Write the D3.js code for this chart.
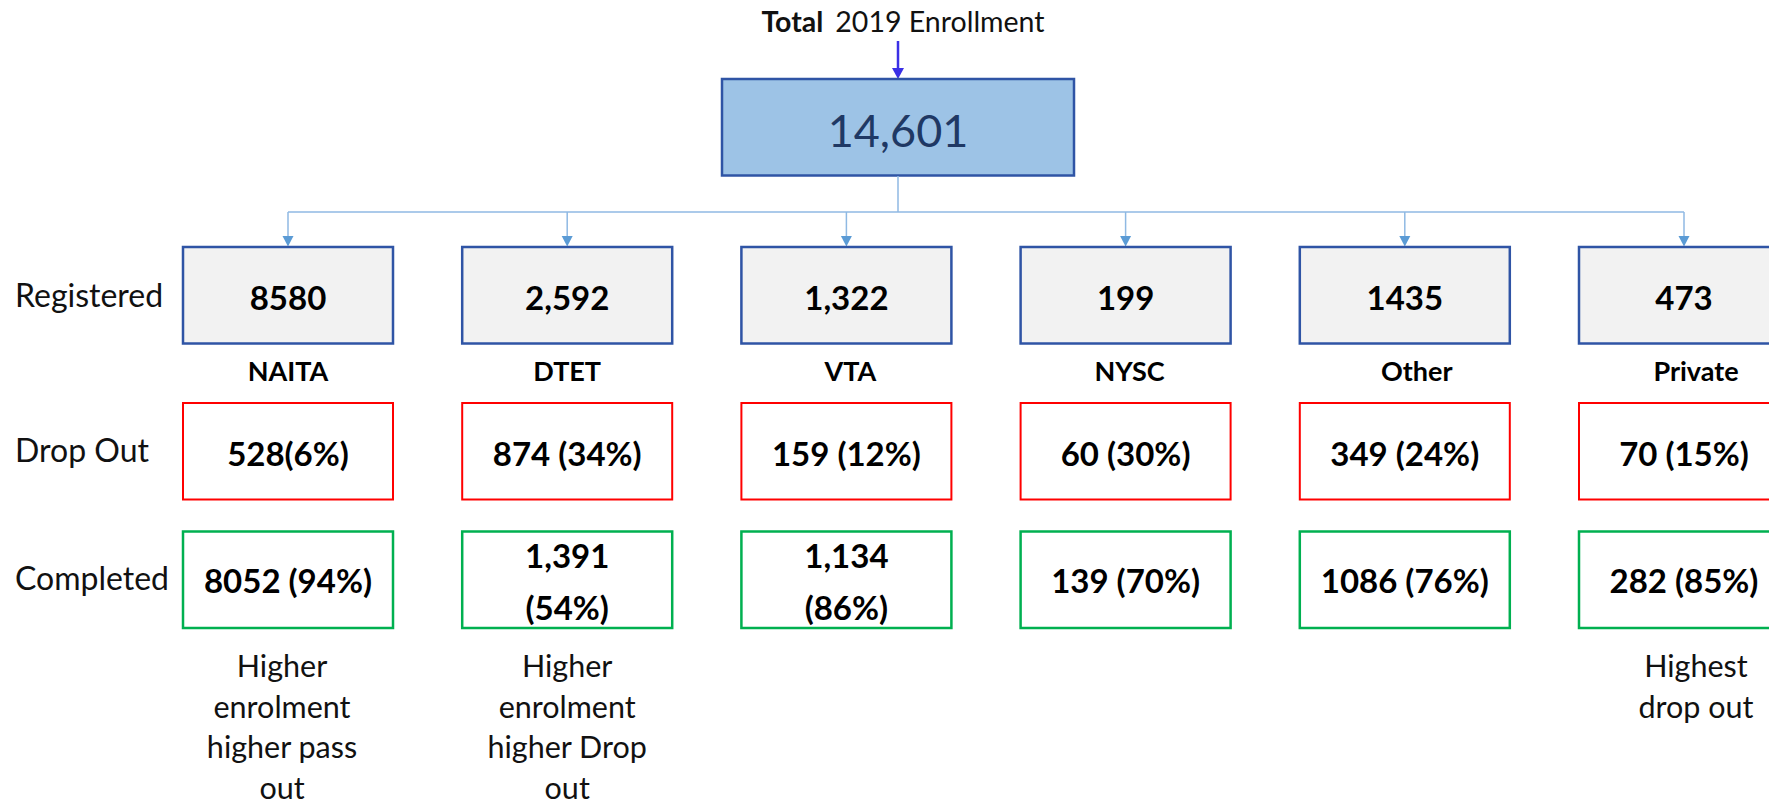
<!DOCTYPE html>
<html>
<head>
<meta charset="utf-8">
<script src="https://cdn.jsdelivr.net/npm/d3@7"></script>
<style>
  html, body { margin: 0; padding: 0; background: #ffffff; }
  svg { display: block; font-family: "Lato", "Carlito", "Noto Sans", sans-serif; }
</style>
</head>
<body>
<svg id="chart" width="1769" height="804"></svg>
<script>
// ---- data ----
const titleBold = "Total";
const titleRest = "2019 Enrollment";
const totalLabel = "14,601";
const categories = ["NAITA", "DTET", "VTA", "NYSC", "Other", "Private"];
const rowLabels = ["Registered", "Drop Out", "Completed"];
const registered = ["8580", "2,592", "1,322", "199", "1435", "473"];
const dropOut = ["528(6%)", "874 (34%)", "159 (12%)", "60 (30%)", "349 (24%)", "70 (15%)"];
const completed = [["8052 (94%)"], ["1,391", "(54%)"], ["1,134", "(86%)"], ["139 (70%)"], ["1086 (76%)"], ["282 (85%)"]];
const notes = [
  ["Higher", "enrolment", "higher pass", "out"],
  ["Higher", "enrolment", "higher Drop", "out"],
  [], [], [],
  ["Highest", "drop out"]
];

// ---- layout ----
const svg = d3.select("#chart");
const x = d3.scalePoint().domain(categories).range([288, 1684]);
const rowTop = d3.scaleOrdinal().domain(rowLabels).range([247, 403, 531.5]);
const boxW = 210, boxH = 96.5;
const rowStyle = {
  "Registered": { fill: "#f2f2f2", stroke: "#2f54a5", sw: 2.5 },
  "Drop Out": { fill: "#ffffff", stroke: "#ff0000", sw: 2 },
  "Completed": { fill: "#ffffff", stroke: "#00b050", sw: 2.5 }
};

// title
const title = svg.append("text")
  .attr("x", 903).attr("y", 32)
  .attr("text-anchor", "middle")
  .attr("font-size", 28.5).attr("fill", "#111");
title.append("tspan").attr("font-weight", 700).text(titleBold);
title.append("tspan").attr("dx", 12).text(titleRest);

// top arrow
const topX = 898;
svg.append("line").attr("x1", topX).attr("x2", topX).attr("y1", 41).attr("y2", 69)
  .attr("stroke", "#3b30e6").attr("stroke-width", 2.5);
svg.append("path")
  .attr("d", d3.line()([[topX - 6, 68], [topX + 6, 68], [topX, 79]]) + "Z")
  .attr("fill", "#3b30e6");

// total box
svg.append("rect").attr("x", 722).attr("y", 79).attr("width", 352).attr("height", 96.5)
  .attr("fill", "#9dc3e6").attr("stroke", "#2f54a5").attr("stroke-width", 2.5);
svg.append("text").attr("x", topX).attr("y", 146.5).attr("text-anchor", "middle")
  .attr("font-size", 45).attr("fill", "#1f3864").text(totalLabel);

// connectors
const lineCol = "#8fb9e3", headCol = "#5b9bd5";
const busY = 212;
svg.append("line").attr("x1", topX).attr("x2", topX).attr("y1", 176).attr("y2", busY)
  .attr("stroke", lineCol).attr("stroke-width", 1.5);
svg.append("line").attr("x1", x(categories[0])).attr("x2", x(categories[categories.length - 1]))
  .attr("y1", busY).attr("y2", busY).attr("stroke", lineCol).attr("stroke-width", 1.5);
const conn = svg.append("g").selectAll("g").data(categories).join("g");
conn.append("line").attr("x1", d => x(d)).attr("x2", d => x(d))
  .attr("y1", busY).attr("y2", 238).attr("stroke", lineCol).attr("stroke-width", 1.5);
conn.append("path")
  .attr("d", d => d3.line()([[x(d) - 5.5, 236], [x(d) + 5.5, 236], [x(d), 246.5]]) + "Z")
  .attr("fill", headCol);

// row labels
const rowLabelY = { "Registered": 307, "Drop Out": 462, "Completed": 590 };
svg.append("g").selectAll("text").data(rowLabels).join("text")
  .attr("x", 15).attr("y", d => rowLabelY[d])
  .attr("font-size", 32).attr("fill", "#111").text(d => d);

// boxes
const rowsData = [
  { row: "Registered", vals: registered.map(v => [v]), base: 63 },
  { row: "Drop Out", vals: dropOut.map(v => [v]), base: 63 },
  { row: "Completed", vals: completed, base: 61.5 }
];
rowsData.forEach(r => {
  const st = rowStyle[r.row];
  const g = svg.append("g").selectAll("g").data(categories).join("g");
  g.append("rect")
    .attr("x", d => x(d) - boxW / 2).attr("y", rowTop(r.row))
    .attr("width", boxW).attr("height", boxH)
    .attr("fill", st.fill).attr("stroke", st.stroke).attr("stroke-width", st.sw);
  const t = g.append("text")
    .attr("text-anchor", "middle").attr("font-weight", 700)
    .attr("font-size", 33).attr("fill", "#000");
  t.each(function (d, i) {
    const lines = r.vals[i];
    const sel = d3.select(this);
    const y0 = lines.length > 1 ? rowTop(r.row) + 36 : rowTop(r.row) + r.base;
    lines.forEach((ln, k) => {
      sel.append("tspan").attr("x", x(d)).attr("y", y0 + k * 52).text(ln);
    });
  });
});

// category labels
svg.append("g").selectAll("text").data(categories).join("text")
  .attr("x", (d, i) => x(d) + (i >= 4 ? 12 : i >= 2 ? 4 : 0)).attr("y", 381)
  .attr("text-anchor", "middle").attr("font-weight", 700)
  .attr("font-size", 27).attr("fill", "#000").text(d => d);

// notes
const ng = svg.append("g").selectAll("text").data(categories).join("text")
  .attr("text-anchor", "middle").attr("font-size", 30.5).attr("fill", "#111");
ng.each(function (d, i) {
  const sel = d3.select(this);
  notes[i].forEach((ln, k) => {
    sel.append("tspan").attr("x", x(d) + (i === 0 ? -6 : i === 5 ? 12 : 0))
      .attr("y", 677 + k * 40.7).text(ln);
  });
});
</script>
</body>
</html>
